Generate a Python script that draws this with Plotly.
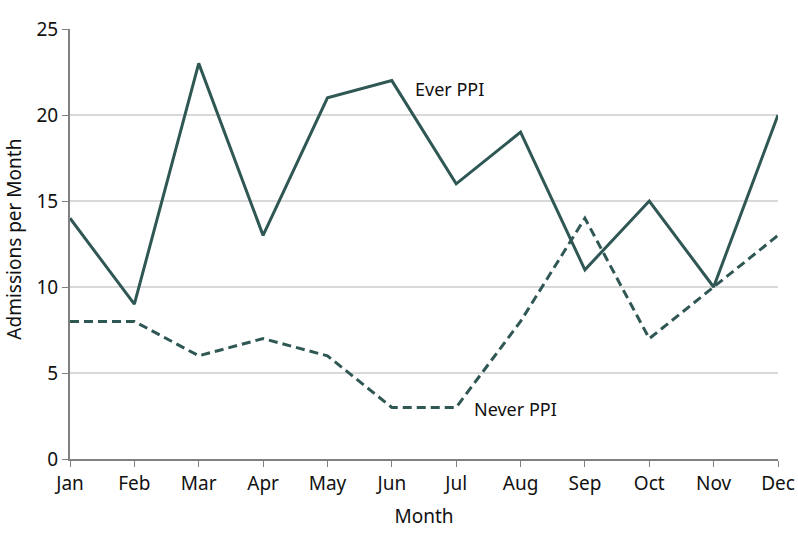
import plotly.graph_objects as go

months = ["Jan", "Feb", "Mar", "Apr", "May", "Jun", "Jul", "Aug", "Sep", "Oct", "Nov", "Dec"]
ever_ppi = [14, 9, 23, 13, 21, 22, 16, 19, 11, 15, 10, 20]
never_ppi = [8, 8, 6, 7, 6, 3, 3, 8, 14, 7, 10, 13]
y_ticks = [0, 5, 10, 15, 20, 25]

color = "#2f5753"
font = "Noto Sans"

x = list(range(len(months)))
fig = go.Figure()
fig.add_trace(go.Scatter(x=x, y=ever_ppi, mode="lines", line=dict(color=color, width=3), showlegend=False))
fig.add_trace(go.Scatter(x=x, y=never_ppi, mode="lines", line=dict(color=color, width=3, dash="9px,5px"), showlegend=False))

fig.add_annotation(x=5.33, y=21.5, text="Ever PPI", showarrow=False, xanchor="left", yanchor="middle",
                   font=dict(family=font, size=18, color="#111"))
fig.add_annotation(x=6.25, y=2.9, text="Never PPI", showarrow=False, xanchor="left", yanchor="middle",
                   font=dict(family=font, size=18, color="#111"))
fig.add_annotation(xref="paper", yref="paper", x=0, y=0.51, xshift=-56, text="Admissions per Month",
                   textangle=-90, showarrow=False, xanchor="center", yanchor="middle",
                   font=dict(family=font, size=19, color="#111"))

fig.update_layout(
    width=798, height=543,
    margin=dict(l=70, r=20, t=29, b=84),
    plot_bgcolor="white", paper_bgcolor="white",
    font=dict(family=font, size=19, color="#111"),
    xaxis=dict(range=[0, 11], tickvals=x, ticktext=months, showgrid=False, zeroline=False,
               showline=True, linecolor="#808080", linewidth=2, ticks="outside", ticklen=6,
               tickcolor="#808080", automargin=False, tickfont=dict(size=19),
               title=dict(text="Month", font=dict(size=19))),
    yaxis=dict(range=[0, 25], tickvals=y_ticks, showgrid=True, gridcolor="#d9d9d9", gridwidth=1.5,
               zeroline=False, showline=True, linecolor="#808080", linewidth=2, ticks="outside",
               ticklen=6, tickcolor="#808080", automargin=False, tickfont=dict(size=19)),
)
fig.write_html("out.html", config={"displayModeBar": False},
               post_script="document.body.style.margin='0';document.body.style.overflow='hidden';")
